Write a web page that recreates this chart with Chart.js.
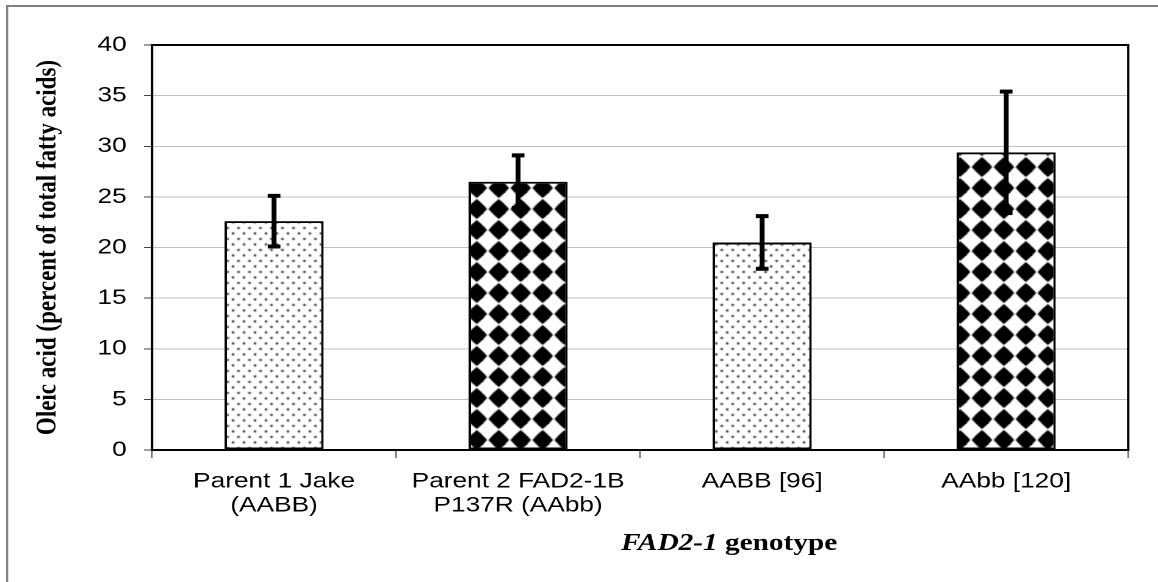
<!DOCTYPE html>
<html>
<head>
<meta charset="utf-8">
<script src="https://cdn.jsdelivr.net/npm/chart.js@4.4.1/dist/chart.umd.min.js"></script>
<style>
  html, body { margin: 0; padding: 0; background: #ffffff; overflow: hidden; }
  #stretch { position: absolute; left: 0; top: 0; width: 949px; height: 582px; transform: scaleX(1.2202); transform-origin: 0 0; }
</style>
</head>
<body>
<div id="stretch"><canvas id="c"></canvas></div>
<script>
// ---- data ----
const categories = [["Parent 1 Jake", "(AABB)"], ["Parent 2 FAD2-1B", "P137R (AAbb)"], "AABB [96]", "AAbb [120]"];
const oleicMeans = [22.6, 26.5, 20.5, 29.4];
const oleicErrors = [2.5, 2.6, 2.6, 6.0];
const barPatterns = ["dots", "diamonds", "dots", "diamonds"];
const yTicks = [0, 5, 10, 15, 20, 25, 30, 35, 40];
const yTitle = "Oleic acid (percent of total fatty acids)";
const xTitleItalic = "FAD2-1";
const xTitleRest = " genotype";

// ---- patterns ----
function makeDots() {
  const t = document.createElement('canvas');
  t.width = 9; t.height = 11;
  const g = t.getContext('2d');
  g.fillStyle = '#ffffff'; g.fillRect(0, 0, 9, 11);
  g.fillStyle = '#3a3a3a';
  [[2, 2.5], [6.5, 8]].forEach(([x, y]) => { g.beginPath(); g.arc(x, y, 1.15, 0, Math.PI * 2); g.fill(); });
  return g.createPattern(t, 'repeat');
}
function makeDiamonds() {
  const w = 18, h = 21;
  const t = document.createElement('canvas');
  t.width = w; t.height = h;
  const g = t.getContext('2d');
  g.fillStyle = '#ffffff'; g.fillRect(0, 0, w, h);
  g.fillStyle = '#000000';
  const rx = 8.4, ry = 9.9;
  const diamond = (cx, cy) => {
    g.beginPath();
    g.moveTo(cx, cy - ry);
    g.quadraticCurveTo(cx + rx * 0.55, cy - ry * 0.55, cx + rx, cy);
    g.quadraticCurveTo(cx + rx * 0.55, cy + ry * 0.55, cx, cy + ry);
    g.quadraticCurveTo(cx - rx * 0.55, cy + ry * 0.55, cx - rx, cy);
    g.quadraticCurveTo(cx - rx * 0.55, cy - ry * 0.55, cx, cy - ry);
    g.fill();
  };
  const ox = 12.7, oy = 20;
  for (const dx of [-w, 0, w]) for (const dy of [-h, 0, h]) diamond(ox + dx, oy + dy);
  return g.createPattern(t, 'repeat');
}
const pats = { dots: makeDots(), diamonds: makeDiamonds() };

const frameDecor = {
  id: 'frameDecor',
  beforeDraw(chart) {
    const ctx = chart.ctx;
    ctx.save();
    ctx.fillStyle = '#808080';
    ctx.fillRect(5, 5, 1.7, chart.height);
    ctx.fillRect(5, 5, chart.width, 2);
    ctx.restore();
  },
  beforeDatasetsDraw(chart) {
    const a = chart.chartArea, ctx = chart.ctx;
    ctx.save();
    ctx.strokeStyle = '#000';
    ctx.lineWidth = 2;
    ctx.strokeRect(a.left, a.top, a.right - a.left, a.bottom - a.top);
    ctx.restore();
  },
  afterDatasetsDraw(chart) {
    const ctx = chart.ctx, ys = chart.scales.y;
    const meta = chart.getDatasetMeta(0);
    ctx.save();
    ctx.fillStyle = '#000';
    meta.data.forEach((bar, i) => {
      const x = bar.x;
      const yt = ys.getPixelForValue(oleicMeans[i] + oleicErrors[i]);
      const yb = ys.getPixelForValue(oleicMeans[i] - oleicErrors[i]);
      ctx.fillRect(x - 2, yt, 4, yb - yt);
      ctx.fillRect(x - 5.2, yt - 2, 10.4, 4);
      ctx.fillRect(x - 5.2, yb - 2, 10.4, 4);
    });
    ctx.restore();
  },
  afterDraw(chart) {
    const ctx = chart.ctx, a = chart.chartArea;
    ctx.save();
    ctx.fillStyle = '#000';
    ctx.textBaseline = 'alphabetic';
    ctx.textAlign = 'left';
    const f1 = 'italic bold 24px "Liberation Serif"';
    const f2 = 'bold 24px "Liberation Serif"';
    ctx.font = f1; const w1 = ctx.measureText(xTitleItalic).width;
    // axis title sits right of the plot centre, starting just under the 2nd/3rd category boundary
    const x = a.left + (a.right - a.left) * 0.4805;
    const y = 550;
    ctx.font = f1; ctx.fillText(xTitleItalic, x, y);
    ctx.font = f2; ctx.fillText(xTitleRest, x + w1, y);
    ctx.restore();
  }
};

Chart.defaults.font.family = '"Liberation Sans", Arial, sans-serif';
Chart.defaults.color = '#000';

new Chart(document.getElementById('c'), {
  type: 'bar',
  data: {
    labels: categories,
    datasets: [{
      data: oleicMeans,
      backgroundColor: barPatterns.map(p => pats[p]),
      borderColor: '#000',
      borderWidth: 2,
      borderSkipped: false,
      categoryPercentage: 1.0,
      barPercentage: 0.406
    }]
  },
  options: {
    responsive: true,
    maintainAspectRatio: false,
    animation: false,
    devicePixelRatio: 2,
    layout: { padding: { left: 0, top: 45, right: 24.4, bottom: 0 } },
    plugins: { legend: { display: false }, tooltip: { enabled: false } },
    scales: {
      x: {
        offset: true,
        afterFit(s) { s.height = 132; },
        grid: { display: true, offset: true, drawOnChartArea: false, drawTicks: true, tickLength: 8, tickColor: '#555', tickWidth: 1 },
        border: { display: false },
        ticks: { font: { size: 21.5, lineHeight: 1.1 }, padding: 12, color: '#000', maxRotation: 0, autoSkip: false }
      },
      y: {
        min: 0, max: 40,
        afterFit(s) { s.width = 124.6; },
        afterBuildTicks(s) { s.ticks = yTicks.map(v => ({ value: v })); },
        grid: { color: '#c0c0c0', lineWidth: 1, drawTicks: true, tickLength: 6.6, tickColor: '#444', tickWidth: 1 },
        border: { display: false },
        ticks: { font: { size: 21.5 }, padding: 14.2, color: '#000' },
        title: {
          display: true,
          text: yTitle,
          font: { family: '"Liberation Serif", "Times New Roman", serif', weight: 'bold', size: 23 },
          padding: { top: 26, bottom: 0 },
          color: '#000'
        }
      }
    }
  },
  plugins: [frameDecor]
});
</script>
</body>
</html>
